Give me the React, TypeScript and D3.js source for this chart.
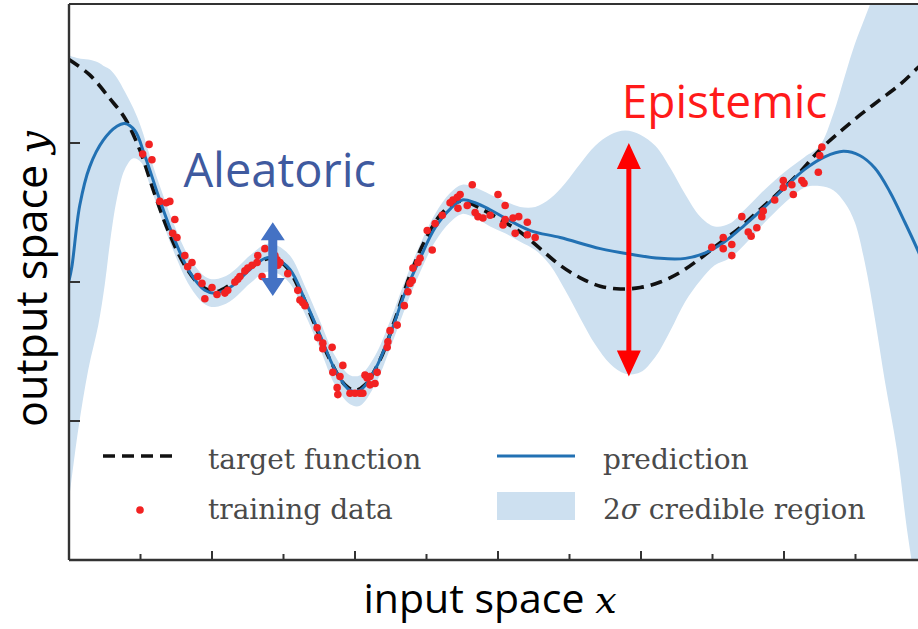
import React from 'react';
import * as d3 from 'd3';

const W = 918;
const H = 629;

// axis ticks (data units)
const xTickValues = [1, 2, 3, 4, 5, 6, 7, 8, 9, 10, 11];
const yTickValues = [-1, 0, 1];

// target function (dashed)
const targetX = [0, 0.29, 0.57, 0.78, 0.99, 1.2, 1.41, 1.62, 1.83, 2.04, 2.25, 2.53, 2.81, 3.02, 3.23, 3.44, 3.65, 3.86, 4.0, 4.14, 4.35, 4.56, 4.77, 4.98, 5.19, 5.4, 5.54, 5.75, 6.03, 6.31, 6.59, 6.87, 7.15, 7.43, 7.71, 7.99, 8.27, 8.55, 8.83, 9.1, 9.38, 9.66, 9.94, 10.22, 10.5, 10.78, 11.06, 11.34, 11.62, 11.87, 12.0];
const targetY = [1.6, 1.49, 1.32, 1.18, 0.95, 0.63, 0.34, 0.12, -0.02, -0.07, -0.02, 0.1, 0.17, 0.12, -0.06, -0.31, -0.56, -0.74, -0.78, -0.74, -0.56, -0.27, 0.05, 0.3, 0.48, 0.57, 0.58, 0.53, 0.45, 0.36, 0.24, 0.12, 0.03, -0.03, -0.05, -0.04, 0.0, 0.07, 0.17, 0.28, 0.39, 0.52, 0.65, 0.79, 0.95, 1.08, 1.2, 1.31, 1.42, 1.54, 1.6];

// prediction (solid)
const predX = [0, 0.04, 0.15, 0.29, 0.48, 0.67, 0.78, 0.92, 1.06, 1.27, 1.48, 1.69, 1.9, 2.04, 2.25, 2.53, 2.74, 2.88, 3.09, 3.3, 3.51, 3.72, 3.93, 4.07, 4.28, 4.49, 4.69, 4.91, 5.12, 5.34, 5.5, 5.68, 5.89, 6.1, 6.45, 6.87, 7.43, 7.85, 8.27, 8.62, 8.9, 9.17, 9.45, 9.73, 10.01, 10.29, 10.57, 10.83, 11.06, 11.27, 11.48, 11.69, 11.87, 12.0];
const predY = [0.01, 0.11, 0.55, 0.83, 1.02, 1.12, 1.14, 1.09, 0.91, 0.59, 0.3, 0.07, -0.06, -0.08, -0.04, 0.09, 0.17, 0.17, 0.09, -0.13, -0.38, -0.63, -0.78, -0.78, -0.63, -0.38, -0.09, 0.17, 0.39, 0.53, 0.59, 0.57, 0.52, 0.46, 0.37, 0.32, 0.24, 0.2, 0.17, 0.17, 0.21, 0.29, 0.41, 0.54, 0.68, 0.81, 0.9, 0.94, 0.91, 0.82, 0.65, 0.43, 0.23, 0.07];

// 2-sigma credible region
const bandX = [0, 0.13, 0.27, 0.41, 0.5, 0.57, 0.67, 0.78, 0.9, 1.01, 1.13, 1.27, 1.48, 1.69, 1.9, 2.04, 2.25, 2.53, 2.74, 2.88, 3.09, 3.3, 3.51, 3.72, 3.93, 4.07, 4.28, 4.49, 4.7, 4.91, 5.12, 5.33, 5.5, 5.68, 5.89, 6.1, 6.31, 6.52, 6.73, 6.94, 7.15, 7.36, 7.57, 7.78, 7.99, 8.2, 8.41, 8.62, 8.83, 9.03, 9.24, 9.45, 9.66, 9.87, 10.08, 10.29, 10.5, 10.69, 10.85, 10.99, 11.13, 11.27, 11.41, 11.58, 11.72, 11.87, 12.0];
const bandLow = [-1.57, -1.06, -0.63, -0.31, -0.02, 0.27, 0.6, 0.81, 0.89, 0.86, 0.7, 0.49, 0.2, -0.03, -0.16, -0.18, -0.14, -0.01, 0.07, 0.07, -0.01, -0.23, -0.48, -0.74, -0.88, -0.89, -0.74, -0.48, -0.19, 0.07, 0.29, 0.43, 0.49, 0.46, 0.4, 0.35, 0.29, 0.23, 0.12, -0.06, -0.26, -0.45, -0.59, -0.66, -0.65, -0.54, -0.35, -0.14, 0.01, 0.12, 0.17, 0.27, 0.39, 0.5, 0.6, 0.68, 0.69, 0.66, 0.57, 0.43, 0.14, -0.26, -0.71, -1.21, -1.78, -2.29, -2.73];
const bandHigh = [1.63, 1.61, 1.6, 1.58, 1.55, 1.53, 1.47, 1.37, 1.25, 1.11, 0.91, 0.69, 0.4, 0.17, 0.04, 0.02, 0.06, 0.19, 0.27, 0.27, 0.19, -0.03, -0.28, -0.53, -0.67, -0.67, -0.53, -0.28, 0.01, 0.27, 0.49, 0.64, 0.7, 0.68, 0.63, 0.58, 0.54, 0.54, 0.6, 0.71, 0.85, 0.98, 1.06, 1.09, 1.06, 0.98, 0.82, 0.63, 0.47, 0.4, 0.42, 0.52, 0.63, 0.73, 0.82, 0.9, 0.98, 1.21, 1.48, 1.71, 1.9, 2.09, 2.32, 2.6, 2.89, 3.18, 3.47];

// training data
const dataX = [1.12, 1.03, 1.16, 1.27, 1.41, 1.36, 1.48, 1.45, 1.51, 1.62, 1.66, 1.72, 1.8, 1.86, 2.0, 1.9, 2.07, 2.18, 2.22, 2.32, 2.39, 2.46, 2.56, 2.63, 2.64, 2.74, 2.7, 2.91, 2.92, 2.88, 2.95, 3.06, 3.2, 3.23, 3.27, 3.3, 3.47, 3.48, 3.55, 3.68, 3.55, 3.83, 3.69, 3.79, 3.75, 3.76, 3.93, 4.0, 4.07, 4.14, 4.21, 4.31, 4.21, 4.28, 4.45, 4.46, 4.49, 4.59, 4.11, 4.17, 2.5, 2.36,
  4.74, 4.8, 4.81, 4.77, 4.91, 5.08, 5.01, 5.12, 5.22, 5.33, 5.37, 5.43, 5.47, 5.44, 5.57, 5.64, 5.68, 5.72, 5.79, 5.89, 6.0, 6.1, 6.1, 6.07, 6.21, 6.29, 6.41, 6.24, 6.41, 6.52, 4.69, 4.88,
  8.99, 9.15, 9.15, 9.27, 9.27, 9.41, 9.5, 9.54, 9.62, 9.69, 9.71, 9.87, 9.99, 9.99, 10.11, 10.13, 10.25, 10.28, 10.48, 10.53, 10.5];
const dataY = [0.99, 0.92, 0.88, 0.58, 0.58, 0.57, 0.45, 0.35, 0.32, 0.19, 0.11, 0.14, 0.04, -0.01, -0.04, -0.12, -0.09, -0.08, -0.06, 0.0, 0.04, 0.08, 0.12, 0.14, 0.19, 0.24, 0.04, 0.16, 0.12, 0.19, 0.14, 0.06, -0.06, -0.13, -0.15, -0.17, -0.33, -0.4, -0.44, -0.47, -0.48, -0.6, -0.65, -0.68, -0.76, -0.81, -0.8, -0.8, -0.8, -0.67, -0.68, -0.65, -0.74, -0.73, -0.47, -0.43, -0.35, -0.31, -0.8, -0.69, 0.1, 0.02,
  -0.07, 0.01, 0.1, -0.01, 0.17, 0.23, 0.37, 0.42, 0.48, 0.57, 0.59, 0.61, 0.63, 0.53, 0.55, 0.7, 0.5, 0.47, 0.46, 0.48, 0.63, 0.55, 0.45, 0.41, 0.46, 0.47, 0.43, 0.35, 0.34, 0.32, -0.17, 0.14,
  0.25, 0.32, 0.24, 0.27, 0.19, 0.47, 0.36, 0.33, 0.39, 0.47, 0.51, 0.59, 0.68, 0.73, 0.7, 0.63, 0.73, 0.71, 0.79, 0.97, 0.91];

// annotations (data coords)
const aleatoricArrow = { x: 2.85, top: 0.43, bottom: -0.1 };
const epistemicArrow = { x: 7.83, top: 1.0, bottom: -0.68 };
const aleatoricLabel = { x: 1.6, y: 0.68, text: 'Aleatoric' };
const epistemicLabel = { x: 7.73, y: 1.18, text: 'Epistemic' };

const legendLabels = ['target function', 'training data', 'prediction', 'credible region'];

const BAND = '#cde0f0';
const PRED = '#2271b3';
const RED = '#f22222';

export default function App() {
  const x = d3.scaleLinear().domain([0, 12]).range([69, 927]);
  const y = d3.scaleLinear().domain([-2, 2]).range([560, 4]);

  const band = bandX.map((v, i) => ({ x: v, lo: bandLow[i], hi: bandHigh[i] }));
  const areaGen = d3
    .area<{ x: number; lo: number; hi: number }>()
    .x((d) => x(d.x))
    .y0((d) => y(d.lo))
    .y1((d) => y(d.hi))
    .curve(d3.curveCatmullRom.alpha(0.5));
  const lineGen = d3
    .line<[number, number]>()
    .x((d) => x(d[0]))
    .y((d) => y(d[1]))
    .curve(d3.curveCatmullRom.alpha(0.5));

  const target: [number, number][] = targetX.map((v, i) => [v, targetY[i]]);
  const pred: [number, number][] = predX.map((v, i) => [v, predY[i]]);

  const left = x(0);
  const right = W;
  const top = y(2);
  const bottom = y(-2);

  // arrows
  const ax = x(aleatoricArrow.x);
  const aT = y(aleatoricArrow.top);
  const aB = y(aleatoricArrow.bottom);
  const aHead = 18;
  const aHalf = 12;
  const aShaft = 4.5;
  const aleatoricPath = `M${ax},${aT} L${ax + aHalf},${aT + aHead} L${ax + aShaft},${aT + aHead} L${ax + aShaft},${aB - aHead} L${ax + aHalf},${aB - aHead} L${ax},${aB} L${ax - aHalf},${aB - aHead} L${ax - aShaft},${aB - aHead} L${ax - aShaft},${aT + aHead} L${ax - aHalf},${aT + aHead} Z`;

  const ex = x(epistemicArrow.x);
  const eT = y(epistemicArrow.top);
  const eB = y(epistemicArrow.bottom);
  const eHead = 26;
  const eHalf = 12;
  const eShaft = 2.5;
  const epistemicPath = `M${ex},${eT} L${ex + eHalf},${eT + eHead} L${ex + eShaft},${eT + eHead} L${ex + eShaft},${eB - eHead} L${ex + eHalf},${eB - eHead} L${ex},${eB} L${ex - eHalf},${eB - eHead} L${ex - eShaft},${eB - eHead} L${ex - eShaft},${eT + eHead} L${ex - eHalf},${eT + eHead} Z`;

  const legendFont = "'DejaVu Serif', serif";
  const legendColor = '#4a4a4a';

  return (
    <svg width={W} height={H} style={{ position: 'absolute', left: 0, top: 0, background: '#fff' }}>
      <defs>
        <clipPath id="plotClip">
          <rect x={left} y={top} width={right - left} height={bottom - top} />
        </clipPath>
      </defs>
      <rect x={0} y={0} width={W} height={H} fill="#fff" />
      <g clipPath="url(#plotClip)">
        <path d={areaGen(band) || ''} fill={BAND} />
        <path d={lineGen(target) || ''} fill="none" stroke="#111" strokeWidth={3.6} strokeDasharray="12,7" />
        <path d={lineGen(pred) || ''} fill="none" stroke={PRED} strokeWidth={3} />
        {dataX.map((v, i) => (
          <circle key={i} cx={x(v)} cy={y(dataY[i])} r={3.8} fill={RED} />
        ))}
      </g>

      {/* annotations */}
      <path d={aleatoricPath} fill="#4472c4" />
      <path d={epistemicPath} fill="#ff0000" />
      <text x={x(aleatoricLabel.x)} y={y(aleatoricLabel.y)} fontFamily="'Open Sans', sans-serif" fontSize={47} fill="#3f5a9f">
        {aleatoricLabel.text}
      </text>
      <text x={x(epistemicLabel.x)} y={y(epistemicLabel.y)} fontFamily="'Open Sans', sans-serif" fontSize={46} fill="#ff1a1a">
        {epistemicLabel.text}
      </text>

      {/* legend */}
      <line x1={103} x2={177} y1={456} y2={456} stroke="#111" strokeWidth={3.6} strokeDasharray="12,7" />
      <text x={208} y={469} fontFamily={legendFont} fontSize={28} fill={legendColor}>{legendLabels[0]}</text>
      <circle cx={140} cy={510} r={3.8} fill={RED} />
      <text x={208} y={519} fontFamily={legendFont} fontSize={28} fill={legendColor}>{legendLabels[1]}</text>
      <line x1={497} x2={575} y1={456} y2={456} stroke={PRED} strokeWidth={3} />
      <text x={603} y={469} fontFamily={legendFont} fontSize={28} fill={legendColor}>{legendLabels[2]}</text>
      <rect x={497} y={492} width={78} height={28} fill={BAND} />
      <text x={603} y={519} fontFamily={legendFont} fontSize={28} fill={legendColor}>
        2<tspan fontStyle="italic">σ</tspan> {legendLabels[3]}
      </text>

      {/* frame */}
      <line x1={left} x2={right} y1={top} y2={top} stroke="#333" strokeWidth={2} />
      <line x1={left} x2={left} y1={top} y2={bottom} stroke="#333" strokeWidth={2.4} />
      <line x1={left} x2={right} y1={bottom} y2={bottom} stroke="#333" strokeWidth={2.4} />
      {yTickValues.map((t) => (
        <line key={t} x1={left} x2={left + 11} y1={y(t)} y2={y(t)} stroke="#333" strokeWidth={2} />
      ))}
      {xTickValues.map((t) => (
        <line key={t} x1={x(t)} x2={x(t)} y1={bottom} y2={bottom - (t % 2 === 0 ? 9 : 6)} stroke="#333" strokeWidth={2} />
      ))}

      {/* axis labels */}
      <text x={490} y={613} textAnchor="middle" fontFamily="'Open Sans', sans-serif" fontSize={41} fill="#000">
        input space <tspan fontFamily="'DejaVu Serif', serif" fontStyle="italic" fontSize={38}>x</tspan>
      </text>
      <text transform={`translate(47,${(top + bottom) / 2 - 3}) rotate(-90)`} textAnchor="middle" fontFamily="'Open Sans', sans-serif" fontSize={43} fill="#000">
        output space <tspan fontFamily="'DejaVu Serif', serif" fontStyle="italic" fontSize={40}>y</tspan>
      </text>
    </svg>
  );
}
